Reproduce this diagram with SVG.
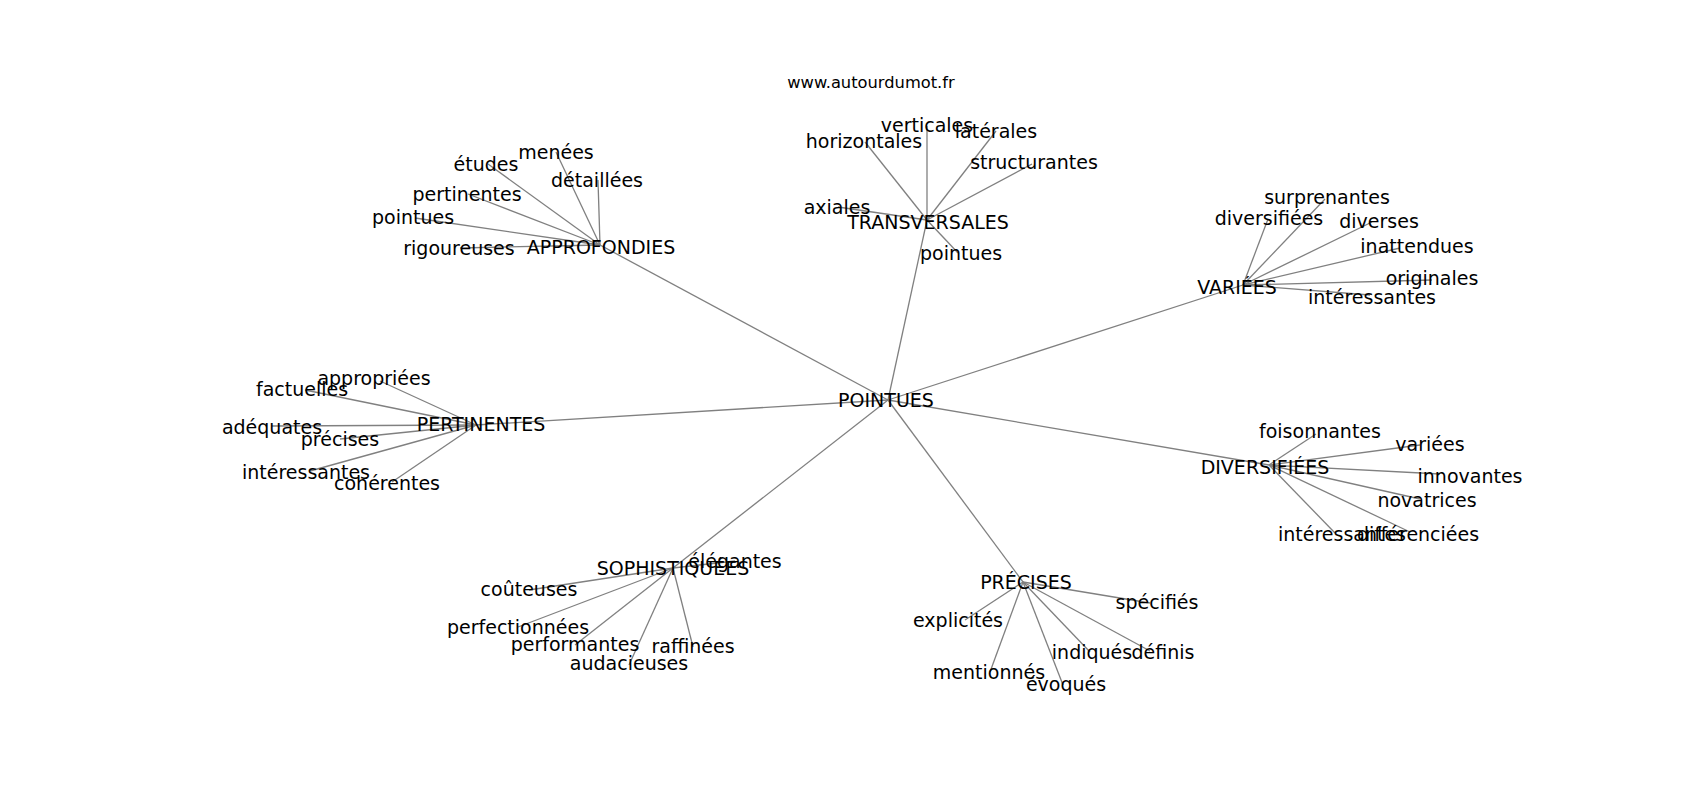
<svg xmlns="http://www.w3.org/2000/svg" width="1700" height="800" viewBox="0 0 1700 800">
<style>
text{font-family:"DejaVu Sans","Liberation Sans",sans-serif;font-size:19px;fill:#000;text-anchor:middle}
.t{font-size:16.3px}
line{stroke:#808080;stroke-width:1.3}
</style>
<rect width="1700" height="800" fill="#fff"/>
<text class="t" x="871" y="88">www.autourdumot.fr</text>
<g id="edges">
<line x1="888" y1="400" x2="600" y2="245"/>
<line x1="888" y1="400" x2="927" y2="220"/>
<line x1="888" y1="400" x2="1243" y2="285"/>
<line x1="888" y1="400" x2="476" y2="425"/>
<line x1="888" y1="400" x2="1269" y2="465"/>
<line x1="888" y1="400" x2="673" y2="568"/>
<line x1="888" y1="400" x2="1023" y2="582"/>
<line x1="600" y1="245" x2="556" y2="152"/>
<line x1="600" y1="245" x2="488" y2="164"/>
<line x1="600" y1="245" x2="598" y2="180"/>
<line x1="600" y1="245" x2="468" y2="194"/>
<line x1="600" y1="245" x2="415" y2="218"/>
<line x1="600" y1="245" x2="460" y2="248"/>
<line x1="927" y1="220" x2="927" y2="126"/>
<line x1="927" y1="220" x2="865" y2="142"/>
<line x1="927" y1="220" x2="996" y2="131"/>
<line x1="927" y1="220" x2="1032" y2="164"/>
<line x1="927" y1="220" x2="838" y2="207"/>
<line x1="927" y1="220" x2="958" y2="253"/>
<line x1="1243" y1="285" x2="1325" y2="199"/>
<line x1="1243" y1="285" x2="1268" y2="219"/>
<line x1="1243" y1="285" x2="1372" y2="222"/>
<line x1="1243" y1="285" x2="1400" y2="248"/>
<line x1="1243" y1="285" x2="1432" y2="280"/>
<line x1="1243" y1="285" x2="1370" y2="295"/>
<line x1="476" y1="425" x2="380" y2="381"/>
<line x1="476" y1="425" x2="305" y2="390"/>
<line x1="476" y1="425" x2="272" y2="426"/>
<line x1="476" y1="425" x2="340" y2="439"/>
<line x1="476" y1="425" x2="310" y2="471"/>
<line x1="476" y1="425" x2="392" y2="482"/>
<line x1="1269" y1="465" x2="1316" y2="434"/>
<line x1="1269" y1="465" x2="1420" y2="445"/>
<line x1="1269" y1="465" x2="1440" y2="474"/>
<line x1="1269" y1="465" x2="1420" y2="499"/>
<line x1="1269" y1="465" x2="1335" y2="533"/>
<line x1="1269" y1="465" x2="1410" y2="532"/>
<line x1="673" y1="568" x2="735" y2="561"/>
<line x1="673" y1="568" x2="529" y2="590"/>
<line x1="673" y1="568" x2="518" y2="627"/>
<line x1="673" y1="568" x2="575" y2="645"/>
<line x1="673" y1="568" x2="693" y2="647"/>
<line x1="673" y1="568" x2="629" y2="665"/>
<line x1="1023" y1="582" x2="1150" y2="603"/>
<line x1="1023" y1="582" x2="965" y2="620"/>
<line x1="1023" y1="582" x2="1090" y2="652"/>
<line x1="1023" y1="582" x2="1150" y2="651"/>
<line x1="1023" y1="582" x2="990" y2="672"/>
<line x1="1023" y1="582" x2="1063" y2="685"/>
</g>
<g id="n-pointues"><text x="886" y="407">POINTUES</text></g>
<g id="n-approfondies"><text x="601" y="254">APPROFONDIES</text></g>
<g id="n-transversales"><text x="928" y="229">TRANSVERSALES</text></g>
<g id="n-variees"><text x="1237" y="294">VARIÉES</text></g>
<g id="n-pertinentes"><text x="481" y="431">PERTINENTES</text></g>
<g id="n-diversifiees"><text x="1265" y="474">DIVERSIFIÉES</text></g>
<g id="n-sophistiquees"><text x="673" y="575">SOPHISTIQUÉES</text></g>
<g id="n-precises"><text x="1026" y="589">PRÉCISES</text></g>
<g id="l-menees"><text x="556" y="159">menées</text></g>
<g id="l-etudes"><text x="486" y="171">études</text></g>
<g id="l-detaillees"><text x="597" y="187">détaillées</text></g>
<g id="l-pertinentes"><text x="467" y="201">pertinentes</text></g>
<g id="l-pointues1"><text x="413" y="224">pointues</text></g>
<g id="l-rigoureuses"><text x="459" y="255">rigoureuses</text></g>
<g id="l-verticales"><text x="927" y="132">verticales</text></g>
<g id="l-horizontales"><text x="864" y="148">horizontales</text></g>
<g id="l-laterales"><text x="996" y="138">latérales</text></g>
<g id="l-structurantes"><text x="1034" y="169">structurantes</text></g>
<g id="l-axiales"><text x="837" y="214">axiales</text></g>
<g id="l-pointues2"><text x="961" y="260">pointues</text></g>
<g id="l-surprenantes"><text x="1327" y="204">surprenantes</text></g>
<g id="l-diversifiees"><text x="1269" y="225">diversifiées</text></g>
<g id="l-diverses"><text x="1379" y="228">diverses</text></g>
<g id="l-inattendues"><text x="1417" y="253">inattendues</text></g>
<g id="l-originales"><text x="1432" y="285">originales</text></g>
<g id="l-interessantes1"><text x="1372" y="304">intéressantes</text></g>
<g id="l-appropriees"><text x="374" y="385">appropriées</text></g>
<g id="l-factuelles"><text x="302" y="396">factuelles</text></g>
<g id="l-adequates"><text x="272" y="434">adéquates</text></g>
<g id="l-precises"><text x="340" y="446">précises</text></g>
<g id="l-interessantes2"><text x="306" y="479">intéressantes</text></g>
<g id="l-coherentes"><text x="387" y="490">cohérentes</text></g>
<g id="l-foisonnantes"><text x="1320" y="438">foisonnantes</text></g>
<g id="l-variees"><text x="1430" y="451">variées</text></g>
<g id="l-innovantes"><text x="1470" y="483">innovantes</text></g>
<g id="l-novatrices"><text x="1427" y="507">novatrices</text></g>
<g id="l-interessantes3"><text x="1342" y="541">intéressantes</text></g>
<g id="l-differenciees"><text x="1418" y="541">différenciées</text></g>
<g id="l-elegantes"><text x="735" y="568">élégantes</text></g>
<g id="l-couteuses"><text x="529" y="596">coûteuses</text></g>
<g id="l-perfectionnees"><text x="518" y="634">perfectionnées</text></g>
<g id="l-performantes"><text x="575" y="651">performantes</text></g>
<g id="l-raffinees"><text x="693" y="653">raffinées</text></g>
<g id="l-audacieuses"><text x="629" y="670">audacieuses</text></g>
<g id="l-specifies"><text x="1157" y="609">spécifiés</text></g>
<g id="l-explicites"><text x="958" y="627">explicités</text></g>
<g id="l-indiques"><text x="1092" y="659">indiqués</text></g>
<g id="l-definis"><text x="1163" y="659">définis</text></g>
<g id="l-mentionnes"><text x="989" y="679">mentionnés</text></g>
<g id="l-evoques"><text x="1066" y="691">évoqués</text></g>
</svg>
